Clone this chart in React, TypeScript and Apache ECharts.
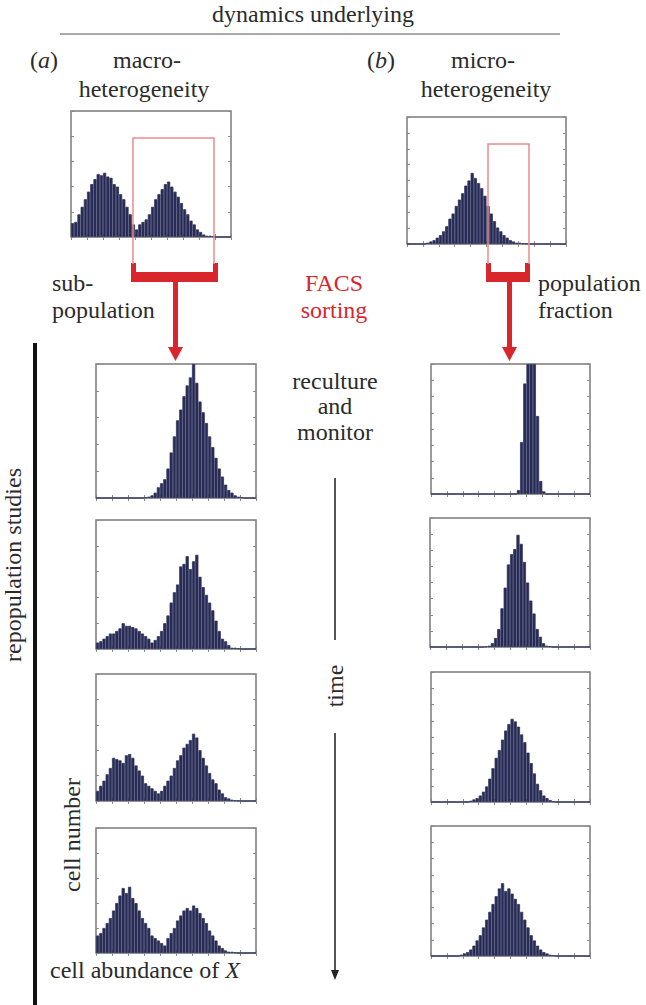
import React, { useEffect, useRef } from "react";
import * as echarts from "echarts";

// histogram bins (50 per panel)
const BINS: string[] = Array.from({ length: 50 }, (_, i) => String(i + 1));

// (a) macro-heterogeneity: parent population
const macroParent = [11, 12, 18, 24, 30, 36, 42, 46, 50, 49, 51, 48, 47, 42, 40, 34, 30, 24, 18, 10, 6, 10, 12, 14, 18, 24, 30, 34, 38, 42, 44, 40, 36, 32, 27, 22, 18, 13, 10, 6, 4, 2, 1, 1, 0.5, 0, 0, 0, 0, 0];
// (b) micro-heterogeneity: parent population
const microParent = [0, 0, 0, 0, 0, 0, 1, 2, 3, 5, 7, 10, 14, 20, 24, 30, 35, 40, 46, 50, 56, 52, 48, 44, 38, 30, 24, 18, 13, 10, 7, 5, 3, 2, 1, 1, 0.5, 0.3, 0, 0, 0, 0, 0, 0, 0, 0, 0, 0, 0, 0];
// (a) repopulation over time
const macroT1 = [0, 0, 0, 0, 0, 0, 0, 0, 0, 0, 0, 0, 0, 0, 0, 0.5, 1, 2, 4, 8, 11, 14, 22, 34, 46, 58, 66, 76, 84, 90, 100, 86, 72, 64, 56, 46, 38, 30, 22, 16, 10, 6, 4, 2, 1, 0.5, 0, 0, 0, 0];
const macroT2 = [5, 6, 8, 10, 12, 12, 14, 16, 20, 18, 18, 17, 16, 14, 12, 10, 8, 5, 7, 10, 14, 20, 26, 36, 44, 50, 64, 66, 72, 62, 68, 73, 56, 48, 42, 36, 30, 22, 14, 8, 6, 3, 1, 1, 0.5, 0, 0, 0, 0, 0];
const macroT3 = [8, 12, 16, 21, 26, 34, 33, 32, 30, 36, 37, 34, 28, 24, 20, 14, 12, 10, 8, 6, 8, 12, 16, 20, 26, 32, 36, 42, 45, 48, 53, 50, 40, 34, 28, 22, 17, 14, 9, 6, 3, 2, 1, 0.5, 0.3, 0, 0, 0, 0, 0];
const macroT4 = [14, 16, 20, 24, 28, 34, 40, 46, 52, 48, 53, 44, 40, 34, 28, 24, 20, 14, 12, 10, 8, 6, 12, 16, 20, 26, 30, 34, 36, 34, 38, 36, 32, 28, 24, 18, 14, 10, 6, 4, 2, 1, 1, 0.5, 0, 0, 0, 0, 0, 0];
// (b) repopulation over time
const microT1 = [0, 0, 0, 0, 0, 0, 0, 0, 0, 0, 0, 0, 0, 0, 0, 0, 0, 0, 0, 0, 0, 0, 0, 0, 0, 0, 0, 3, 40, 85, 100, 100, 100, 60, 10, 2, 0, 0, 0, 0, 0, 0, 0, 0, 0, 0, 0, 0, 0, 0];
const microT2 = [0, 0, 0, 0, 0, 0, 0, 0, 0, 0, 0, 0, 0, 0, 0, 0, 0, 0.5, 1, 3, 7, 14, 30, 46, 64, 72, 76, 87, 80, 66, 50, 36, 26, 14, 8, 3, 1, 0.5, 0, 0, 0, 0, 0, 0, 0, 0, 0, 0, 0, 0];
const microT3 = [0, 0, 0, 0, 0, 0, 0, 0, 0, 0, 0, 0, 1, 2, 3, 5, 8, 12, 18, 26, 34, 40, 48, 55, 60, 64, 62, 58, 52, 46, 38, 30, 22, 14, 9, 5, 3, 1.5, 0.5, 0, 0, 0, 0, 0, 0, 0, 0, 0, 0, 0];
const microT4 = [0, 0, 0, 0, 0, 0, 0, 0, 0, 1, 2, 3, 5, 8, 12, 16, 22, 28, 34, 40, 46, 52, 56, 50, 52, 48, 44, 40, 34, 28, 22, 16, 12, 8, 5, 3, 2, 1, 0.5, 0, 0, 0, 0, 0, 0, 0, 0, 0, 0, 0];

const SERIF = "Liberation Serif";
const TXT = "#2b2b2b";
const RED = "#d8262c";
const PINK = "#ea8a8e";

type Panel = { data: number[]; rect: [number, number, number, number]; yInt: number };

const panels: Panel[] = [
  { data: macroParent, rect: [71, 111, 160, 126], yInt: 20 },
  { data: microParent, rect: [407, 117, 159, 127], yInt: 12.5 },
  { data: macroT1, rect: [96, 364, 160, 134], yInt: 20 },
  { data: macroT2, rect: [96, 520, 160, 129], yInt: 20 },
  { data: macroT3, rect: [96, 674, 160, 127], yInt: 20 },
  { data: macroT4, rect: [96, 828, 160, 125], yInt: 20 },
  { data: microT1, rect: [431, 364, 159, 130], yInt: 12.5 },
  { data: microT2, rect: [430, 518, 160, 129], yInt: 12.5 },
  { data: microT3, rect: [431, 672, 159, 130], yInt: 12.5 },
  { data: microT4, rect: [431, 826, 159, 130], yInt: 12.5 },
];

function buildOption() {
  const grid: any[] = [];
  const xAxis: any[] = [];
  const yAxis: any[] = [];
  const series: any[] = [];
  const tick = { show: true, inside: true, length: 3, lineStyle: { color: "#8a8a8a", width: 1 } };
  panels.forEach((p, i) => {
    const [l, t, w, h] = p.rect;
    grid.push({ left: l, top: t, width: w, height: h, show: true, borderColor: "#7a7a7a", borderWidth: 1.5, backgroundColor: "#fff", containLabel: false });
    ["bottom", "top"].forEach((pos) => {
      xAxis.push({ type: "category", gridIndex: i, position: pos, data: BINS, boundaryGap: true, axisLine: { show: false }, axisLabel: { show: false }, axisTick: { ...tick, interval: 4 }, splitLine: { show: false } });
    });
    ["left", "right"].forEach((pos) => {
      yAxis.push({ type: "value", gridIndex: i, position: pos, min: 0, max: 100, interval: p.yInt, axisLine: { show: false }, axisLabel: { show: false }, axisTick: tick, splitLine: { show: false } });
    });
    series.push({
      type: "bar",
      xAxisIndex: i * 2,
      yAxisIndex: i * 2,
      data: p.data,
      barCategoryGap: "0%",
      barGap: "0%",
      itemStyle: { color: "#272a52", borderColor: "#343863", borderWidth: 0.8 },
      silent: true,
    });
  });

  const base = { fontFamily: SERIF, fontSize: 24, fill: TXT, textAlign: "center", textVerticalAlign: "middle" };
  const rich = { i: { fontStyle: "italic", fontFamily: SERIF, fontSize: 24, fill: TXT } };
  const t = (text: string, x: number, y: number, extra: any = {}) => ({
    type: "text",
    x,
    y,
    style: { ...base, text, ...extra },
  });

  const graphic: any[] = [
    t("dynamics underlying", 313, 14),
    { type: "line", shape: { x1: 60, y1: 34, x2: 560, y2: 34 }, style: { stroke: "#aaaaaa", lineWidth: 2 } },
    t("({i|a})", 30, 60, { textAlign: "left", rich }),
    t("macro-", 147, 60),
    t("heterogeneity", 144, 89),
    t("({i|b})", 367, 60, { textAlign: "left", rich }),
    t("micro-", 483, 60),
    t("heterogeneity", 486, 89),
    // gates
    { type: "polyline", shape: { points: [[133, 264], [133, 138], [214, 138], [214, 264]] }, style: { stroke: PINK, lineWidth: 1.5, fill: null }, z: 10 },
    { type: "polyline", shape: { points: [[488, 264], [488, 144], [529, 144], [529, 264]] }, style: { stroke: PINK, lineWidth: 1.5, fill: null }, z: 10 },
    // left bracket
    { type: "rect", shape: { x: 131, y: 263, width: 5, height: 19 }, style: { fill: RED } },
    { type: "rect", shape: { x: 213, y: 263, width: 5, height: 19 }, style: { fill: RED } },
    { type: "rect", shape: { x: 131, y: 272, width: 87, height: 10 }, style: { fill: RED } },
    { type: "rect", shape: { x: 173, y: 281, width: 5, height: 67 }, style: { fill: RED } },
    { type: "polygon", shape: { points: [[168, 347], [183, 347], [175.5, 361]] }, style: { fill: RED } },
    // right bracket
    { type: "rect", shape: { x: 486, y: 263, width: 5, height: 19 }, style: { fill: RED } },
    { type: "rect", shape: { x: 525, y: 263, width: 5, height: 19 }, style: { fill: RED } },
    { type: "rect", shape: { x: 486, y: 272, width: 44, height: 10 }, style: { fill: RED } },
    { type: "rect", shape: { x: 507, y: 281, width: 5, height: 67 }, style: { fill: RED } },
    { type: "polygon", shape: { points: [[502, 347], [517, 347], [509.5, 361]] }, style: { fill: RED } },
    // labels near brackets
    t("sub-", 52, 283, { textAlign: "left" }),
    t("population", 52, 310, { textAlign: "left" }),
    t("FACS", 334, 283, { fill: RED }),
    t("sorting", 334, 310, { fill: RED }),
    t("population", 538, 283, { textAlign: "left" }),
    t("fraction", 538, 310, { textAlign: "left" }),
    // repopulation bar
    { type: "rect", shape: { x: 33, y: 343, width: 4, height: 662 }, style: { fill: "#111" } },
    { ...t("repopulation studies", 0, 0), x: 13, y: 565, rotation: Math.PI / 2 },
    // reculture / time
    t("reculture", 335, 381),
    t("and", 335, 406),
    t("monitor", 335, 432),
    { type: "line", shape: { x1: 335, y1: 478, x2: 335, y2: 640 }, style: { stroke: "#555", lineWidth: 2 } },
    { ...t("time", 0, 0), x: 335, y: 686, rotation: Math.PI / 2 },
    { type: "line", shape: { x1: 335, y1: 733, x2: 335, y2: 972 }, style: { stroke: "#555", lineWidth: 2 } },
    { type: "polygon", shape: { points: [[331, 970], [339, 970], [335, 980]] }, style: { fill: "#222" } },
    // axis labels
    { ...t("cell number", 0, 0), x: 72, y: 835, rotation: Math.PI / 2 },
    t("cell abundance of {i|X}", 50, 970, { textAlign: "left", rich }),
  ];

  return { animation: false, backgroundColor: "#fff", grid, xAxis, yAxis, series, graphic };
}

export default function App() {
  const ref = useRef<HTMLDivElement>(null);
  useEffect(() => {
    if (!ref.current) return;
    const chart = echarts.init(ref.current, undefined, { renderer: "svg" });
    chart.setOption(buildOption() as any);
    return () => chart.dispose();
  }, []);
  return <div ref={ref} style={{ position: "absolute", left: 0, top: 0, width: 646, height: 1005 }} />;
}
